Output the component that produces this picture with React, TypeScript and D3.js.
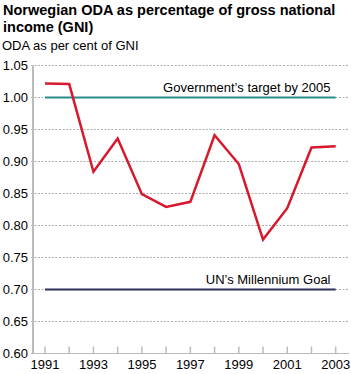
import React from "react";
import * as d3 from "d3";

const years = [1991, 1992, 1993, 1994, 1995, 1996, 1997, 1998, 1999, 2000, 2001, 2002, 2003];
const odaValues = [1.022, 1.021, 0.884, 0.936, 0.849, 0.829, 0.837, 0.941, 0.896, 0.778, 0.827, 0.922, 0.924];
const yTicks = [0.6, 0.65, 0.7, 0.75, 0.8, 0.85, 0.9, 0.95, 1.0, 1.05];
const xLabels = [1991, 1993, 1995, 1997, 1999, 2001, 2003];
const targets = [
  { label: "Government\u2019s target by 2005", value: 1.0, color: "#2b8a8c" },
  { label: "UN\u2019s Millennium Goal", value: 0.7, color: "#2b2f5c" },
];

const width = 351;
const height = 374;
const left = 33;
const right = 349;
const top = 65.5;
const bottom = 353.5;

export default function App() {
  const x = d3.scaleLinear().domain([1991, 2003]).range([45, 335.7]);
  const y = d3.scaleLinear().domain([0.6, 1.05]).range([bottom, top]);

  const line = d3
    .line<number>()
    .x((d, i) => x(years[i]))
    .y((d) => y(d));

  const font = "Arial, 'Liberation Sans', sans-serif";

  return (
    <svg
      width={width}
      height={height}
      style={{ position: "absolute", left: 0, top: 0, background: "#fff" }}
      fontFamily={font}
    >
      <text x={3} y={15} fontSize={14.5} fontWeight="bold" fill="#000">
        Norwegian ODA as percentage of gross national
      </text>
      <text x={3} y={32} fontSize={14.5} fontWeight="bold" fill="#000">
        income (GNI)
      </text>
      <text x={2} y={50} fontSize={13} fill="#000">
        ODA as per cent of GNI
      </text>

      {yTicks.map((t) => (
        <g key={t}>
          <line
            x1={left - 2}
            x2={right}
            y1={y(t)}
            y2={y(t)}
            stroke="#999"
            strokeWidth={0.8}
            strokeDasharray="2,1.5"
          />
          <text x={left - 5} y={y(t) + 4.5} fontSize={13} textAnchor="end" fill="#000">
            {t.toFixed(2)}
          </text>
        </g>
      ))}

      <line x1={left} x2={left} y1={top} y2={bottom} stroke="#bbb" strokeWidth={2} />
      <line x1={left} x2={right} y1={bottom} y2={bottom} stroke="#bbb" strokeWidth={1} />

      {years.map((yr) => (
        <line key={yr} x1={x(yr)} x2={x(yr)} y1={bottom - 7} y2={bottom} stroke="#bbb" strokeWidth={1.5} />
      ))}
      {xLabels.map((yr) => (
        <text key={yr} x={x(yr)} y={369} fontSize={13} textAnchor="middle" fill="#000">
          {yr}
        </text>
      ))}

      {targets.map((t) => (
        <g key={t.label}>
          <line x1={x(1991)} x2={x(2003)} y1={y(t.value)} y2={y(t.value)} stroke={t.color} strokeWidth={2} />
          <text x={330.5} y={y(t.value) - 5.5} fontSize={13} textAnchor="end" fill="#000">
            {t.label}
          </text>
        </g>
      ))}

      <path d={line(odaValues) || ""} fill="none" stroke="#d7192d" strokeWidth={2.5} strokeLinejoin="miter" />
    </svg>
  );
}
